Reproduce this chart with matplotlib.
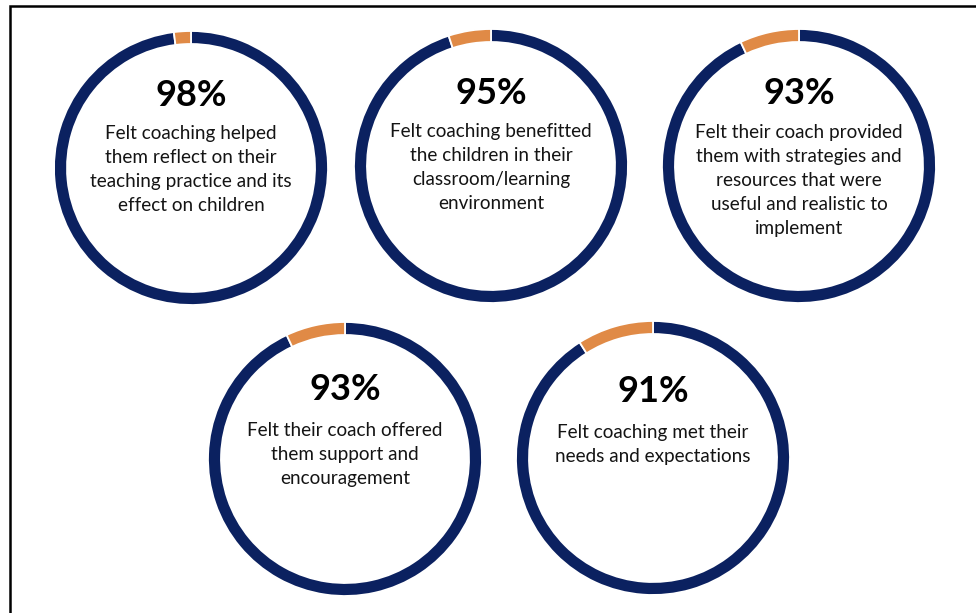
import matplotlib
matplotlib.use("Agg")
import matplotlib.pyplot as plt

plt.rcParams['font.family'] = ['Lato', 'DejaVu Sans']

# survey results, percent agreeing
percents = [98, 95, 93, 93, 91]
captions = [
    ["Felt coaching helped", "them reflect on their", "teaching practice and its", "effect on children"],
    ["Felt coaching benefitted", "the children in their", "classroom/learning", "environment"],
    ["Felt their coach provided", "them with strategies and", "resources that were", "useful and realistic to", "implement"],
    ["Felt their coach offered", "them support and", "encouragement"],
    ["Felt coaching met their", "needs and expectations"],
]

# layout in pixels from the top-left corner
W, H = 976, 613
centers = [(191, 168), (491, 166), (799, 166), (345, 459), (653, 458)]
pct_y = [95, 94, 94, 390, 392]
body_y = [139, 137, 138, 436, 438]
radius = 137
ring = 13
line_gap = 24

navy = '#0b2160'
orange = '#e08a46'

fig = plt.figure(figsize=(W / 100, H / 100), dpi=100)
ax = fig.add_axes([0, 0, 1, 1])

for i, p in enumerate(percents):
    cx, cy = centers[i]
    ax.pie([p, 100 - p], colors=[navy, orange], startangle=90, counterclock=False,
           radius=radius, center=(cx, H - cy),
           wedgeprops=dict(width=ring, edgecolor='white', linewidth=1.3))
    ax.text(cx, H - pct_y[i], f"{p}%", ha='center', va='center',
            fontsize=26, fontweight='bold', color='black')
    for j, line in enumerate(captions[i]):
        ax.text(cx, H - (body_y[i] + j * line_gap), line, ha='center', va='baseline',
                fontsize=13.6, color='#141414')

# frame: only the left and top edges fall inside the image
ax.plot([10, 10, W], [0, H - 6, H - 6], color='black', lw=1.8, solid_joinstyle='miter')

ax.set_xlim(0, W)
ax.set_ylim(0, H)
ax.set_aspect('auto')
ax.axis('off')

fig.savefig('out.png', dpi=100, facecolor='white')
